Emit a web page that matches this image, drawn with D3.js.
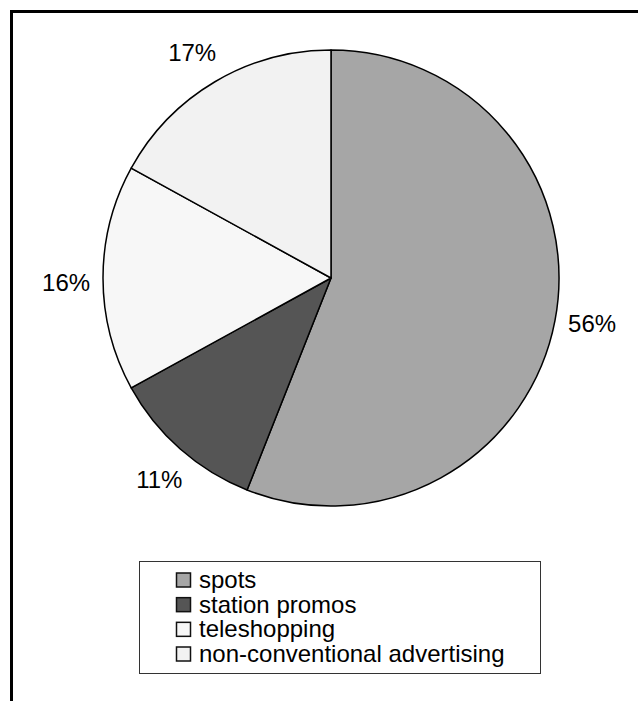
<!DOCTYPE html>
<html>
<head>
<meta charset="utf-8">
<script src="https://cdn.jsdelivr.net/npm/d3@7/dist/d3.min.js"></script>
<style>
  html, body { margin: 0; padding: 0; background: #fff; }
  svg { display: block; }
  text { font-family: Arial, "Liberation Sans", sans-serif; fill: #000; }
</style>
</head>
<body>
<svg id="chart" width="638" height="701"></svg>
<script>
// Share of advertising time by type
const categories = ["spots", "station promos", "teleshopping", "non-conventional advertising"];
const shares = [56, 11, 16, 17];
const sliceColors = ["#a6a6a6", "#555555", "#f7f7f7", "#f2f2f2"];

const svg = d3.select("#chart");
const W = 638, H = 701;

// Outer frame (runs past the right and bottom edges)
svg.append("rect")
  .attr("x", 11.5).attr("y", 11.5)
  .attr("width", W + 20).attr("height", H + 20)
  .attr("fill", "#fff")
  .attr("stroke", "#000")
  .attr("stroke-width", 3);

const cx = 331, cy = 278, R = 228;

const data = categories.map((c, i) => ({ name: c, value: shares[i], color: sliceColors[i] }));

const pie = d3.pie().value(d => d.value).sort(null).startAngle(0).endAngle(2 * Math.PI);
const arcs = pie(data);
const arc = d3.arc().innerRadius(0).outerRadius(R);

const g = svg.append("g").attr("transform", `translate(${cx},${cy})`);

g.selectAll("path.slice")
  .data(arcs)
  .enter().append("path")
  .attr("class", "slice")
  .attr("d", arc)
  .attr("fill", d => d.data.color)
  .attr("stroke", "#000")
  .attr("stroke-width", 1.5)
  .attr("stroke-linejoin", "round");

// Percentage labels centred on a ring just outside the rim
const fontSize = 24;
const labelR = 265;
const labelTilt = -1 * Math.PI / 180;
g.selectAll("text.pct")
  .data(arcs)
  .enter().append("text")
  .attr("class", "pct")
  .attr("font-size", fontSize)
  .attr("text-anchor", "middle")
  .attr("x", d => Math.sin((d.startAngle + d.endAngle) / 2 + labelTilt) * labelR)
  .attr("y", d => -Math.cos((d.startAngle + d.endAngle) / 2 + labelTilt) * labelR + fontSize * 0.36)
  .text(d => d.data.value + "%");

// Legend
const legX = 139.5, legY = 561.5, legW = 401, legH = 112;
const leg = svg.append("g");
leg.append("rect")
  .attr("x", legX).attr("y", legY)
  .attr("width", legW).attr("height", legH)
  .attr("fill", "#fff")
  .attr("stroke", "#333")
  .attr("stroke-width", 1);

const rowY = d3.scalePoint().domain(categories).range([580, 654]);

const items = leg.selectAll("g.item")
  .data(data)
  .enter().append("g")
  .attr("class", "item")
  .attr("transform", d => `translate(0,${rowY(d.name)})`);

items.append("rect")
  .attr("x", 176.5).attr("y", -7)
  .attr("width", 14).attr("height", 14)
  .attr("fill", d => d.color)
  .attr("stroke", "#111")
  .attr("stroke-width", 1.5);

items.append("text")
  .attr("x", 199)
  .attr("y", 8)
  .attr("font-size", fontSize)
  .text(d => d.name);
</script>
</body>
</html>
